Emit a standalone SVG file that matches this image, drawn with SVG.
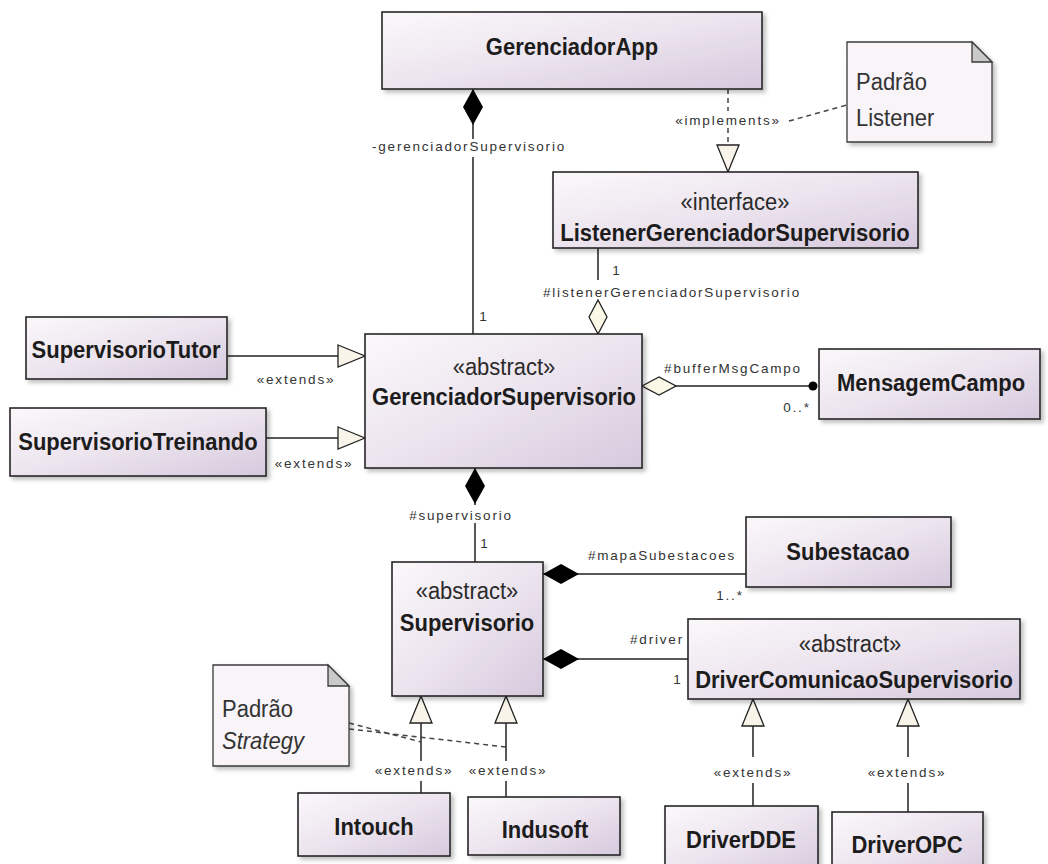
<svg xmlns="http://www.w3.org/2000/svg" width="1048" height="864" viewBox="0 0 1048 864">
  <style>
    .box { fill: url(#classFill); stroke: #262626; stroke-width: 1.6; filter: url(#shadow); }
    .note { fill: #f8f4f8; stroke: #3a3a3a; stroke-width: 1.3; filter: url(#shadow); }
    .fold { fill: #c9c9c9; stroke: #3a3a3a; stroke-width: 1.3; }
    .name { font-family: "Liberation Sans", Arial, sans-serif; font-weight: bold; font-size: 22px; fill: #1c1c1c; text-anchor: middle; }
    .stereo { font-family: "Liberation Sans", Arial, sans-serif; font-size: 22px; fill: #2a2a2a; text-anchor: middle; }
    .notetext { font-family: "Liberation Sans", Arial, sans-serif; font-size: 22px; fill: #333333; }
    .lbl { font-family: "Liberation Sans", Arial, sans-serif; font-size: 13.5px; letter-spacing: 1.8px; fill: #333333; text-anchor: middle; }
    .line { fill: none; stroke: #222222; stroke-width: 1.5; }
    .dashed { fill: none; stroke: #444444; stroke-width: 1.5; stroke-dasharray: 5 4; }
  </style>
  <defs>
    <linearGradient id="classFill" x1="0" y1="0" x2="1" y2="1">
      <stop offset="0" stop-color="#fbf8fb"/>
      <stop offset="0.5" stop-color="#ece4ee"/>
      <stop offset="1" stop-color="#d6c9dd"/>
    </linearGradient>
    <filter id="shadow" x="-10%" y="-10%" width="130%" height="130%">
      <feDropShadow dx="3" dy="3" stdDeviation="2" flood-color="#000000" flood-opacity="0.25"/>
    </filter>
    <!-- composition: filled diamond at the owning end -->
    <marker id="composition" viewBox="0 0 36 20" refX="0" refY="10" markerWidth="36" markerHeight="20" markerUnits="userSpaceOnUse" orient="auto">
      <path d="M0,10 L18,0 L36,10 L18,20 Z" fill="#000000"/>
    </marker>
    <!-- aggregation: hollow diamond -->
    <marker id="aggregation" viewBox="-1 -1 36 20" refX="0" refY="9" markerWidth="36" markerHeight="20" markerUnits="userSpaceOnUse" orient="auto">
      <path d="M0,9 L17,0 L34,9 L17,18 Z" fill="#fbf8e8" stroke="#222222" stroke-width="1.3"/>
    </marker>
    <!-- generalization / realization: hollow triangle -->
    <marker id="inherit" viewBox="-1 -1 29 24" refX="27" refY="11" markerWidth="29" markerHeight="24" markerUnits="userSpaceOnUse" orient="auto">
      <path d="M0,0 L27,11 L0,22 Z" fill="#f8f4ea" stroke="#222222" stroke-width="1.3"/>
    </marker>
    <!-- navigable end dot -->
    <marker id="dot" viewBox="0 0 10 10" refX="5" refY="5" markerWidth="10" markerHeight="10" markerUnits="userSpaceOnUse" orient="auto">
      <circle cx="5" cy="5" r="4.5" fill="#000000"/>
    </marker>
  </defs>

  <rect width="1048" height="864" fill="#ffffff"/>

  <!-- connectors -->
  <g id="connectors">
    <path class="line" d="M473,89 V139 M473,157 V334" marker-start="url(#composition)"/>
    <path class="dashed" d="M728,89 V111 M728,128 V172" marker-end="url(#inherit)"/>
    <path class="dashed" d="M789,121 L847,105"/>
    <path class="line" d="M598,334 V301 M598,280 V248" marker-start="url(#aggregation)"/>
    <path class="line" d="M227,356 H365" marker-end="url(#inherit)"/>
    <path class="line" d="M266,438 H365" marker-end="url(#inherit)"/>
    <path class="line" d="M642,386 H813" marker-start="url(#aggregation)" marker-end="url(#dot)"/>
    <path class="line" d="M475,468 V505 M475,523 V562" marker-start="url(#composition)"/>
    <path class="line" d="M543,574 H746" marker-start="url(#composition)"/>
    <path class="line" d="M543,659 H688" marker-start="url(#composition)"/>
    <path class="line" d="M421,793 V781 M421,761 V696" marker-end="url(#inherit)"/>
    <path class="line" d="M506,797 V781 M506,761 V696" marker-end="url(#inherit)"/>
    <path class="line" d="M753,806 V783 M753,757 V699" marker-end="url(#inherit)"/>
    <path class="line" d="M908,812 V783 M908,757 V699" marker-end="url(#inherit)"/>
    <path class="dashed" d="M349,723 L421,742"/>
    <path class="dashed" d="M349,729 L506,747"/>

    <text class="lbl" x="469" y="151">-gerenciadorSupervisorio</text>
    <text class="lbl" x="484" y="321">1</text>
    <text class="lbl" x="728" y="125">«implements»</text>
    <text class="lbl" x="617" y="275">1</text>
    <text class="lbl" x="672" y="297">#listenerGerenciadorSupervisorio</text>
    <text class="lbl" x="296" y="384">«extends»</text>
    <text class="lbl" x="314" y="468">«extends»</text>
    <text class="lbl" x="733" y="373">#bufferMsgCampo</text>
    <text class="lbl" x="797" y="412">0..*</text>
    <text class="lbl" x="461" y="520">#supervisorio</text>
    <text class="lbl" x="485" y="548">1</text>
    <text class="lbl" x="662" y="560">#mapaSubestacoes</text>
    <text class="lbl" x="730" y="600">1..*</text>
    <text class="lbl" x="657" y="644">#driver</text>
    <text class="lbl" x="678" y="684">1</text>
    <text class="lbl" x="414" y="775">«extends»</text>
    <text class="lbl" x="508" y="775">«extends»</text>
    <text class="lbl" x="753" y="777">«extends»</text>
    <text class="lbl" x="907" y="777">«extends»</text>
  </g>

  <g id="GerenciadorApp">
    <rect class="box" x="382" y="12" width="380" height="77"/>
    <text class="name" transform="translate(572 55) scale(1 1.12)">GerenciadorApp</text>
  </g>

  <g id="NotaListener">
    <path class="note" d="M847,42 H972 L992,62 V142 H847 Z"/>
    <path class="fold" d="M972,42 V62 H992 Z"/>
    <text class="notetext" transform="translate(856 90) scale(1 1.1)">Padrão</text>
    <text class="notetext" transform="translate(856 126) scale(1 1.1)">Listener</text>
  </g>

  <g id="ListenerGerenciadorSupervisorio">
    <rect class="box" x="553" y="172" width="365" height="76"/>
    <text class="stereo" transform="translate(735 210) scale(1 1.12)">«interface»</text>
    <text class="name" transform="translate(735 241) scale(1 1.12)">ListenerGerenciadorSupervisorio</text>
  </g>

  <g id="GerenciadorSupervisorio">
    <rect class="box" x="365" y="334" width="277" height="134"/>
    <text class="stereo" transform="translate(504 375) scale(1 1.12)">«abstract»</text>
    <text class="name" transform="translate(504 405) scale(1 1.12)">GerenciadorSupervisorio</text>
  </g>

  <g id="SupervisorioTutor">
    <rect class="box" x="26" y="317" width="201" height="62"/>
    <text class="name" transform="translate(126 358) scale(1 1.12)">SupervisorioTutor</text>
  </g>

  <g id="SupervisorioTreinando">
    <rect class="box" x="10" y="408" width="256" height="68"/>
    <text class="name" transform="translate(138 450) scale(1 1.12)">SupervisorioTreinando</text>
  </g>

  <g id="MensagemCampo">
    <rect class="box" x="819" y="349" width="221" height="70"/>
    <text class="name" transform="translate(931 391) scale(1 1.12)">MensagemCampo</text>
  </g>

  <g id="Supervisorio">
    <rect class="box" x="392" y="562" width="151" height="134"/>
    <text class="stereo" transform="translate(467 599) scale(1 1.12)">«abstract»</text>
    <text class="name" transform="translate(467 631) scale(1 1.12)">Supervisorio</text>
  </g>

  <g id="Subestacao">
    <rect class="box" x="746" y="517" width="205" height="70"/>
    <text class="name" transform="translate(848 560) scale(1 1.12)">Subestacao</text>
  </g>

  <g id="DriverComunicaoSupervisorio">
    <rect class="box" x="688" y="619" width="332" height="80"/>
    <text class="stereo" transform="translate(850 652) scale(1 1.12)">«abstract»</text>
    <text class="name" transform="translate(854 688) scale(1 1.12)">DriverComunicaoSupervisorio</text>
  </g>

  <g id="NotaStrategy">
    <path class="note" d="M213,665 H328 L349,686 V766 H213 Z"/>
    <path class="fold" d="M328,665 V686 H349 Z"/>
    <text class="notetext" transform="translate(222 717) scale(1 1.1)">Padrão</text>
    <text class="notetext" font-style="italic" transform="translate(222 749) scale(1 1.1)">Strategy</text>
  </g>

  <g id="Intouch">
    <rect class="box" x="298" y="793" width="152" height="63"/>
    <text class="name" transform="translate(374 835) scale(1 1.12)">Intouch</text>
  </g>

  <g id="Indusoft">
    <rect class="box" x="468" y="797" width="152" height="58"/>
    <text class="name" transform="translate(545 838) scale(1 1.12)">Indusoft</text>
  </g>

  <g id="DriverDDE">
    <rect class="box" x="665" y="806" width="153" height="70"/>
    <text class="name" transform="translate(741 848) scale(1 1.12)">DriverDDE</text>
  </g>

  <g id="DriverOPC">
    <rect class="box" x="832" y="812" width="151" height="70"/>
    <text class="name" transform="translate(907 853) scale(1 1.12)">DriverOPC</text>
  </g>
</svg>
